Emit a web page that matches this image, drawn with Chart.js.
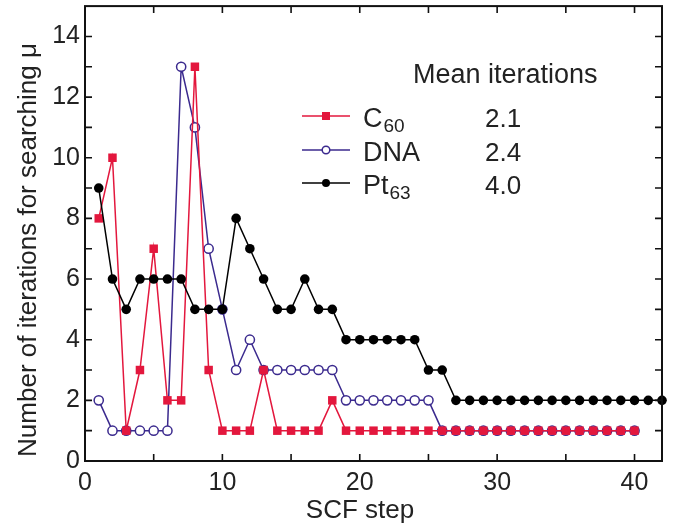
<!DOCTYPE html>
<html>
<head>
<meta charset="utf-8">
<script src="https://cdn.jsdelivr.net/npm/chart.js@4.4.0/dist/chart.umd.min.js"></script>
<style>
    html, body { margin: 0; padding: 0; background: #fff; }
    #wrap { width: 679px; height: 532px; position: relative; }
</style>
</head>
<body>
<div id="wrap"><canvas id="chart"></canvas></div>
<script>
/* ------------------------------- Data -------------------------------*/

var stepsShort = [1, 2, 3, 4, 5, 6, 7, 8, 9, 10, 11, 12, 13, 14, 15, 16, 17, 18, 19, 20,
    21, 22, 23, 24, 25, 26, 27, 28, 29, 30, 31, 32, 33, 34, 35, 36, 37, 38, 39, 40];
var stepsLong = stepsShort.concat([41, 42]);

var c60 = [8, 10, 1, 3, 7, 2, 2, 13, 3, 1, 1, 1, 3, 1, 1, 1, 1, 2, 1, 1,
    1, 1, 1, 1, 1, 1, 1, 1, 1, 1, 1, 1, 1, 1, 1, 1, 1, 1, 1, 1];
var dna = [2, 1, 1, 1, 1, 1, 13, 11, 7, 5, 3, 4, 3, 3, 3, 3, 3, 3, 2, 2,
    2, 2, 2, 2, 2, 1, 1, 1, 1, 1, 1, 1, 1, 1, 1, 1, 1, 1, 1, 1];
var pt63 = [9, 6, 5, 6, 6, 6, 6, 5, 5, 5, 8, 7, 6, 5, 5, 6, 5, 5, 4, 4,
    4, 4, 4, 4, 3, 3, 2, 2, 2, 2, 2, 2, 2, 2, 2, 2, 2, 2, 2, 2, 2, 2];

var xTicks = [0, 5, 10, 15, 20, 25, 30, 35, 40];
var yTicks = [0, 1, 2, 3, 4, 5, 6, 7, 8, 9, 10, 11, 12, 13, 14];

var seriesNames = ["C", "DNA", "Pt"];
var seriesSubs = ["60", "", "63"];
var meanIterations = ["2.1", "2.4", "4.0"];

var xTitle = "SCF step";
var yTitle = "Number of iterations for searching \u03bc";
var legendTitle = "Mean iterations";

var RED = "#e3173d";
var BLUE = "#3b2a8e";
var BLACK = "#000000";
var FONT = "'Liberation Sans', Arial, Helvetica, sans-serif";

function toPoints(xs, ys) {
    return ys.map(function (y, i) { return { x: xs[i], y: y }; });
}

/* ------------------------------- Frame + ticks -------------------------------*/

var framePlugin = {
    id: "frame",
    afterDraw: function (chart) {
        var ctx = chart.ctx;
        var a = chart.chartArea;
        var xs = chart.scales.x;
        var ys = chart.scales.y;
        var tick = 7;

        ctx.save();
        ctx.strokeStyle = "#111";
        ctx.lineWidth = 1.6;
        ctx.beginPath();
        xs.ticks.forEach(function (t) {
            var px = xs.getPixelForValue(t.value);
            ctx.moveTo(px, a.bottom); ctx.lineTo(px, a.bottom - tick);
            ctx.moveTo(px, a.top); ctx.lineTo(px, a.top + tick);
        });
        ys.ticks.forEach(function (t) {
            var py = ys.getPixelForValue(t.value);
            ctx.moveTo(a.left, py); ctx.lineTo(a.left + tick, py);
            ctx.moveTo(a.right, py); ctx.lineTo(a.right - tick, py);
        });
        ctx.stroke();

        ctx.lineWidth = 2;
        ctx.strokeRect(a.left, a.top, a.right - a.left, a.bottom - a.top);

        // axis titles
        ctx.fillStyle = "#222";
        ctx.font = "26px " + FONT;
        ctx.textAlign = "center";
        ctx.textBaseline = "alphabetic";
        ctx.fillText(xTitle, 360, 518);

        ctx.save();
        ctx.translate(36, 250);
        ctx.rotate(-Math.PI / 2);
        ctx.fillText(yTitle, 0, 0);
        ctx.restore();

        // legend
        ctx.textAlign = "left";
        ctx.font = "27px " + FONT;
        ctx.fillText(legendTitle, 413, 83);

        var rows = [116, 150, 183];
        var colors = [RED, BLUE, BLACK];
        for (let i = 0; i < rows.length; i++) {
            var y = rows[i];
            ctx.strokeStyle = colors[i];
            ctx.lineWidth = 1.5;
            ctx.beginPath();
            ctx.moveTo(302, y); ctx.lineTo(350, y);
            ctx.stroke();

            if (i == 0) {
                ctx.fillStyle = RED;
                ctx.fillRect(322, y - 4, 8, 8);
            } else if (i == 1) {
                ctx.fillStyle = "#fff";
                ctx.beginPath();
                ctx.arc(326, y, 3.8, 0, Math.PI * 2);
                ctx.fill();
                ctx.stroke();
            } else {
                ctx.fillStyle = BLACK;
                ctx.beginPath();
                ctx.arc(326, y, 4, 0, Math.PI * 2);
                ctx.fill();
            }

            ctx.fillStyle = "#222";
            ctx.font = "27px " + FONT;
            ctx.fillText(seriesNames[i], 363, y + 11);
            var w = ctx.measureText(seriesNames[i]).width;
            ctx.font = "19px " + FONT;
            ctx.fillText(seriesSubs[i], 363 + w + 1, y + 16);
            ctx.font = "26px " + FONT;
            ctx.fillText(meanIterations[i], 485, y + 11);
        }
        ctx.restore();
    }
};

/* ------------------------------- Chart -------------------------------*/

function buildChart() {
    var ctx = document.getElementById("chart").getContext("2d");
    new Chart(ctx, {
        type: "line",
        data: {
            datasets: [{
                label: "C60",
                data: toPoints(stepsShort, c60),
                borderColor: RED,
                backgroundColor: RED,
                borderWidth: 1.5,
                pointStyle: "rect",
                pointRadius: 6,
                pointBorderWidth: 0,
                order: 2
            }, {
                label: "DNA",
                data: toPoints(stepsShort, dna),
                borderColor: BLUE,
                backgroundColor: "#fff",
                borderWidth: 1.5,
                pointStyle: "circle",
                pointRadius: 4.6,
                pointBorderWidth: 1.5,
                order: 3
            }, {
                label: "Pt63",
                data: toPoints(stepsLong, pt63),
                borderColor: BLACK,
                backgroundColor: BLACK,
                borderWidth: 1.5,
                pointStyle: "circle",
                pointRadius: 4.8,
                pointBorderWidth: 0,
                order: 1
            }]
        },
        options: {
            responsive: false,
            animation: false,
            clip: false,
            layout: { padding: { top: 3, right: 17, left: 0, bottom: 0 } },
            plugins: { legend: { display: false }, tooltip: { enabled: false } },
            scales: {
                x: {
                    type: "linear",
                    min: 0,
                    max: 42,
                    grid: { display: false, drawTicks: false },
                    border: { display: false },
                    ticks: {
                        padding: 7,
                        color: "#222",
                        font: { family: FONT, size: 25 },
                        maxRotation: 0,
                        autoSkip: false,
                        callback: function (v) { return v % 10 == 0 ? v : ""; }
                    },
                    afterBuildTicks: function (scale) {
                        scale.ticks = xTicks.map(function (v) { return { value: v }; });
                    },
                    afterFit: function (scale) {
                        scale.height = 71;
                        scale.paddingLeft = 0;
                        scale.paddingRight = 0;
                    }
                },
                y: {
                    min: 0,
                    max: 15,
                    grid: { display: false, drawTicks: false },
                    border: { display: false },
                    ticks: {
                        padding: 5,
                        color: "#222",
                        font: { family: FONT, size: 25 },
                        autoSkip: false,
                        callback: function (v) { return v % 2 == 0 ? v : ""; }
                    },
                    afterBuildTicks: function (scale) {
                        scale.ticks = yTicks.map(function (v) { return { value: v }; });
                    },
                    afterFit: function (scale) {
                        scale.width = 85;
                        scale.paddingTop = 0;
                        scale.paddingBottom = 0;
                    }
                }
            }
        },
        plugins: [framePlugin]
    });
}

var cv = document.getElementById("chart");
cv.width = 679;
cv.height = 532;
buildChart();
</script>
</body>
</html>
